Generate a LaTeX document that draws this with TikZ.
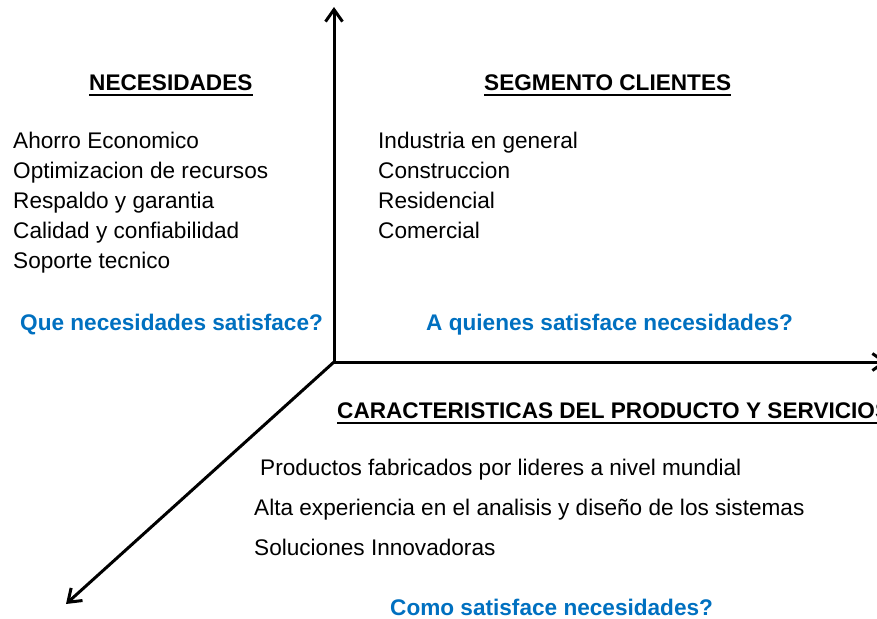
\documentclass[tikz,border=0pt]{standalone}
\usepackage{fontspec}
\setmainfont{Liberation Sans}
\usetikzlibrary{arrows.meta}
\definecolor{azul}{HTML}{0070C0}
\newcommand{\tamano}{\fontsize{22.6}{27}\selectfont}
\tikzset{
	eje/.style={line width=3pt, -{Straight Barb[length=12pt, width=17pt]}},
	titulo/.style={anchor=base west, inner sep=0pt, font=\tamano\bfseries},
	renglon/.style={anchor=base west, inner sep=0pt, font=\tamano},
	pregunta/.style={anchor=base west, inner sep=0pt, font=\tamano\bfseries, text=azul},
	subraya/.style={line width=2pt}
}

\begin{document}
\begin{tikzpicture}[x=1pt, y=-1pt]
		\useasboundingbox (0, 0) rectangle (877, 618);
		\coordinate (o) at (334, 362);
		\coordinate (arriba) at (334, 7);
		\coordinate (derecha) at (887, 362);
		\coordinate (abajo) at (66, 604);
		\draw[eje] (o) -- (arriba);
		\draw[eje] (o) -- (derecha);
		\draw[eje] (o) -- (abajo);
		\node[titulo] (nec) at (89, 90) {NECESIDADES};
		\node[titulo] (seg) at (484, 90) {SEGMENTO CLIENTES};
		\node[titulo] (car) at (337, 418) {CARACTERISTICAS DEL PRODUCTO Y SERVICIOS};
		\foreach \n in {nec, seg, car}
			\draw[subraya] ([yshift=-5pt]\n.base west) -- ([yshift=-5pt]\n.base east);
		\foreach \t [count=\i] in {Ahorro Economico, Optimizacion de recursos, Respaldo y garantia, Calidad y confiabilidad, Soporte tecnico}
			\node[renglon] (nec\i) at (13, 118 + 30*\i) {\t};
		\foreach \t [count=\i] in {Industria en general, Construccion, Residencial, Comercial}
			\node[renglon] (seg\i) at (378, 118 + 30*\i) {\t};
		\node[renglon] (car1) at (260, 475) {Productos fabricados por lideres a nivel mundial};
		\node[renglon] (car2) at (254, 515) {Alta experiencia en el analisis y diseño de los sistemas};
		\node[renglon] (car3) at (254, 555) {Soluciones Innovadoras};
		\node[pregunta] (preg1) at (20, 330) {Que necesidades satisface?};
		\node[pregunta] (preg2) at (426, 330) {A quienes satisface necesidades?};
		\node[pregunta] (preg3) at (390, 615) {Como satisface necesidades?};
	\end{tikzpicture}
\end{document}
